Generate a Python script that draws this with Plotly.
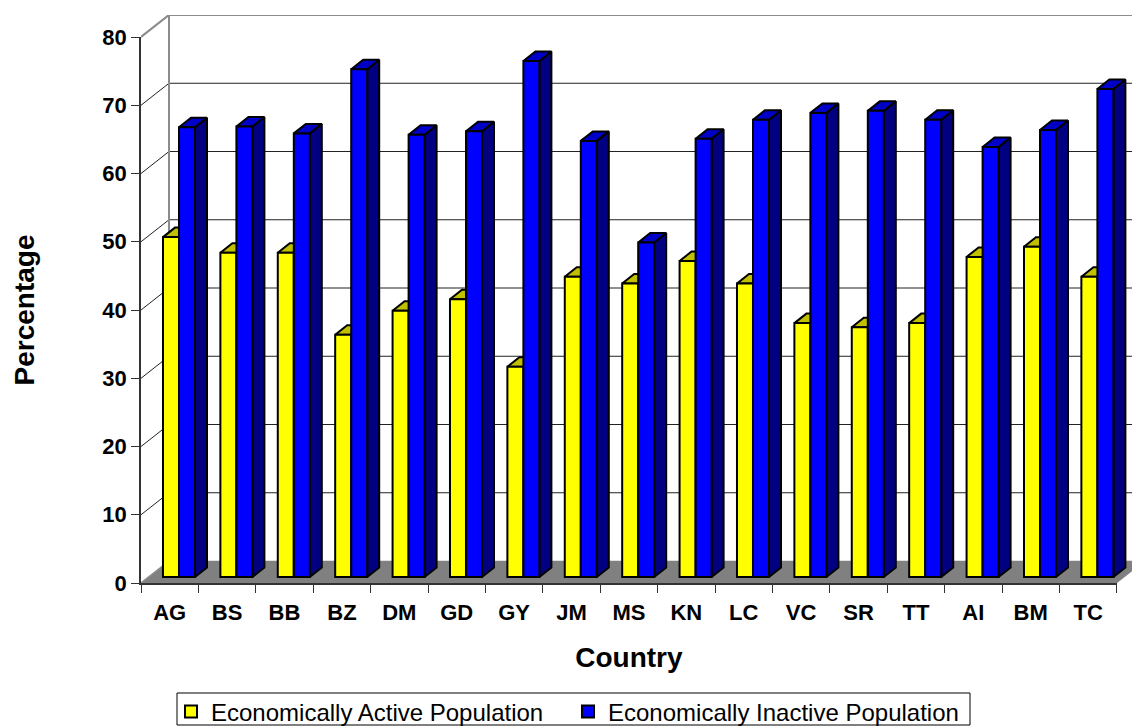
import plotly.graph_objects as go

categories = ["AG","BS","BB","BZ","DM","GD","GY","JM","MS","KN","LC","VC","SR","TT","AI","BM","TC"]
active = [49.8,47.5,47.5,35.5,39,40.7,30.8,44,43,46.3,43,37.2,36.6,37.2,46.9,48.4,44]
inactive = [65.9,66,65,74.4,64.8,65.3,75.6,63.9,49,64.2,67,68,68.3,67,63,65.5,71.5]
y_ticks = [0,10,20,30,40,50,60,70,80]

W, H = 1132, 728
CAT = 57.4      # px per category
UNIT = 6.825    # px per percent
LEFT, BOTTOM, TOP = 141, 583, 37
wx, wy = 28 / CAT, 22 / UNIT        # wall depth
dx, dy = 12 / CAT, 9.5 / UNIT       # bar depth
base = 6 / UNIT
bw = 16 / CAT
off_a, off_b = -0.117, 0.162
xmax = -0.5 + (W - LEFT) / CAT
ymax = (BOTTOM - 15) / UNIT

font = "Liberation Sans"
fig = go.Figure()

def poly(xs, ys, color, line="black", lw=2):
    fig.add_trace(go.Scatter(x=xs, y=ys, mode="lines", fill="toself", fillcolor=color,
                             line=dict(color=line, width=lw), hoverinfo="skip",
                             showlegend=False, xaxis="x", yaxis="y"))

def lines(xs, ys, color, lw):
    fig.add_trace(go.Scatter(x=xs, y=ys, mode="lines", line=dict(color=color, width=lw),
                             hoverinfo="skip", showlegend=False, xaxis="x", yaxis="y"))

# floor
x0 = -0.5
xr = -0.5 + len(categories)
poly([x0, x0 + wx, xmax + 1, xr + wx, xr, x0], [0, wy, wy, wy, 0, 0], "#808080", "#808080", 0.5)

# gridlines on the wall
gx, gy = [], []
for t in y_ticks[1:-1]:
    gx += [x0, x0 + wx, xmax, None]
    gy += [t, t + wy, t + wy, None]
lines(gx, gy, "#222222", 1)

# wall outline
lines([x0, x0 + wx, xmax], [80, 80 + wy, 80 + wy], "#8c8c8c", 2.2)
lines([x0 + wx, x0 + wx], [wy, 80 + wy], "#8c8c8c", 2)
lines([x0, x0 + wx], [0, wy], "#8c8c8c", 1.5)

def faces(vals, off, side, top):
    sx, sy, tx, ty = [], [], [], []
    for i, v in enumerate(vals):
        r = i + off + bw
        l = i + off
        h = base + v
        sx += [r, r + dx, r + dx, r, r, None]
        sy += [base, base + dy, h + dy, h, base, None]
        tx += [l, l + dx, r + dx, r, l, None]
        ty += [h, h + dy, h + dy, h, h, None]
    poly(sx, sy, side)
    poly(tx, ty, top)

faces(active, off_a, "#808000", "#C0C000")
faces(inactive, off_b, "#000080", "#0000C8")

for name, vals, off, col in [("Economically Active Population", active, off_a, "#FFFF00"),
                             ("Economically Inactive Population", inactive, off_b, "#0000FF")]:
    fig.add_trace(go.Bar(name=name, x=categories, y=vals, base=[base] * len(vals),
                         width=bw, offset=off,
                         marker=dict(color=col, line=dict(color="black", width=2)),
                         xaxis="x2", yaxis="y2"))

fig.update_layout(
    width=W, height=H, margin=dict(l=0, r=0, t=0, b=0, autoexpand=False),
    paper_bgcolor="white", plot_bgcolor="rgba(0,0,0,0)", barmode="overlay",
    font=dict(family=font, color="black"),
    xaxis=dict(domain=[LEFT / W, 1], range=[-0.5, xmax], visible=False, fixedrange=True),
    yaxis=dict(domain=[1 - BOTTOM / H, 1 - 15 / H], range=[0, ymax], visible=False, fixedrange=True),
    xaxis2=dict(domain=[LEFT / W, (LEFT + CAT * len(categories)) / W], anchor="y2", type="category",
                categoryorder="array", categoryarray=categories, range=[-0.5, len(categories) - 0.5],
                tickson="boundaries", ticks="outside", ticklen=8, tickcolor="#333333",
                showline=True, linecolor="#333333", linewidth=1.5, showgrid=False,
                tickfont=dict(size=22, family=font, weight="bold"), ticklabelstandoff=9,
                title=dict(text="<b>Country</b>", font=dict(size=28, family=font), standoff=23)),
    yaxis2=dict(domain=[1 - BOTTOM / H, 1 - TOP / H], anchor="x2", range=[0, 80],
                tickvals=y_ticks, ticks="outside", ticklen=8, tickcolor="#333333",
                showline=True, linecolor="#333333", linewidth=1.5, showgrid=False, zeroline=False,
                tickfont=dict(size=22, family=font, weight="bold"), ticklabelstandoff=0,
                title=dict(text="<b>Percentage</b>", font=dict(size=28, family=font), standoff=60)),
    legend=dict(orientation="h", x=171 / W, xanchor="left",
                y=1 - 712 / H, yanchor="middle", borderwidth=0, bgcolor="rgba(0,0,0,0)",
                font=dict(size=24, family=font), itemwidth=30, traceorder="normal",
                entrywidth=352, entrywidthmode="pixels"),
    showlegend=True,
    shapes=[dict(type="rect", xref="paper", yref="paper", layer="below",
                 x0=177 / W, x1=970 / W, y0=1 - 725 / H, y1=1 - 693 / H,
                 line=dict(color="black", width=1), fillcolor="white")],
)

fig.write_html("out.html",
               post_script="document.body.style.margin='0';document.documentElement.style.overflow='hidden';document.body.style.overflow='hidden';",
               config={"displayModeBar": False})
